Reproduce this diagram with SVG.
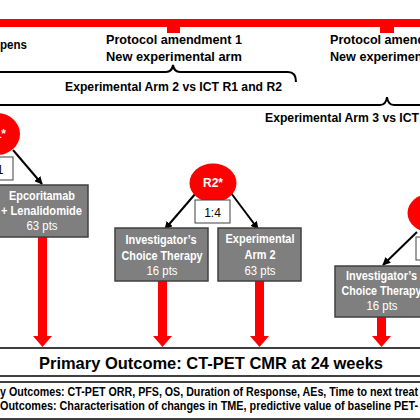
<svg xmlns="http://www.w3.org/2000/svg" width="420" height="420" viewBox="0 0 420 420">
<defs>
<style>
text{font-family:"Liberation Sans",Arial,sans-serif;}
.hd{font-size:12.6px;font-weight:bold;fill:#000;}
.bx{fill:#7f7f7f;stroke:#404040;stroke-width:1.5;}
.bt{font-size:12px;font-weight:bold;fill:#fff;text-anchor:middle;}
.bn{font-size:12px;fill:#fff;text-anchor:middle;}
.rd{fill:#ff0000;}
.rt{font-size:12px;font-weight:bold;fill:#fff;text-anchor:middle;}
.ratio{fill:#fff;stroke:#404040;stroke-width:1;}
.rtxt{font-size:12px;fill:#000;text-anchor:middle;}
.brace{fill:none;stroke:#000;stroke-width:2;}
.ln{stroke:#000;stroke-width:2;fill:none;marker-end:url(#ah);}
.ob{fill:#fff;stroke:#000;stroke-width:1.5;}
</style>
<marker id="ah" viewBox="0 0 10 10" refX="9" refY="5" markerWidth="4" markerHeight="4" orient="auto" markerUnits="strokeWidth">
<path d="M0,0 L10,5 L0,10 z" fill="#000"/>
</marker>
</defs>
<rect width="420" height="420" fill="#fff"/>

<g id="timeline">
<rect class="rd" x="-5" y="19" width="430" height="8"/>
<rect class="rd" x="167" y="26" width="13" height="7"/>
<rect class="rd" x="380" y="26" width="14" height="7"/>
<text class="hd" x="0" y="49" textLength="27" lengthAdjust="spacingAndGlyphs">pens</text>
<text class="hd" x="106" y="44" textLength="136" lengthAdjust="spacingAndGlyphs">Protocol amendment 1</text>
<text class="hd" x="106" y="61" textLength="136" lengthAdjust="spacingAndGlyphs">New experimental arm</text>
<text class="hd" x="330" y="44">Protocol amendment</text>
<text class="hd" x="330" y="61">New experimental arm</text>
</g>

<g id="brace1">
<path class="brace" d="M-10 72 H166 Q172 72 173 65 Q174 72 180 72 H288 Q296 72 296 82"/>
<text class="hd" x="65" y="91" textLength="217" lengthAdjust="spacingAndGlyphs">Experimental Arm 2 vs ICT R1 and R2</text>
</g>
<g id="brace2">
<path class="brace" d="M-10 105 H380 Q386 105 387 97 Q388 105 394 105 H430"/>
<text class="hd" x="265" y="122" style="font-size:12.2px">Experimental Arm 3 vs ICT</text>
</g>

<g id="connectors">
<line class="ln" x1="13" y1="150" x2="42" y2="184"/>
<line class="ln" x1="196" y1="193" x2="165" y2="229"/>
<line class="ln" x1="231" y1="193" x2="258" y2="229"/>
<line class="ln" x1="417" y1="232" x2="383" y2="265"/>
<polygon class="rd" points="38,237 47,237 47,336 52,336 42.5,347 33,336 38,336"/>
<polygon class="rd" points="158,281 167,281 167,336 172,336 162.5,347 153,336 158,336"/>
<polygon class="rd" points="255,281 264,281 264,336 269,336 259.5,347 250,336 255,336"/>
<polygon class="rd" points="377,317 386,317 386,336 391,336 381.5,347 372,336 377,336"/>
</g>

<g id="R1">
<ellipse class="rd" cx="-3" cy="134" rx="23" ry="21"/>
<text class="rt" x="-4" y="138">R1*</text>
</g>
<g id="ratio1">
<rect class="ratio" x="-22" y="157" width="35" height="23"/>
<text class="rtxt" x="-5" y="174">1:1</text>
</g>
<g id="R2">
<ellipse class="rd" cx="213" cy="183" rx="23.5" ry="19.5"/>
<text class="rt" x="213" y="187">R2*</text>
</g>
<g id="ratio2">
<rect class="ratio" x="195" y="200" width="35" height="23"/>
<text class="rtxt" x="212.5" y="216.5">1:4</text>
</g>
<g id="R3">
<ellipse class="rd" cx="431" cy="213" rx="23.5" ry="19.5"/>
</g>
<g id="ratio3">
<rect class="ratio" x="416" y="237" width="35" height="23"/>
</g>

<g id="epcoritamab">
<rect class="bx" x="-1" y="185" width="89" height="52"/>
<text class="bt" x="42" y="200" textLength="66" lengthAdjust="spacingAndGlyphs">Epcoritamab</text>
<text class="bt" x="41.5" y="215" textLength="81" lengthAdjust="spacingAndGlyphs">+ Lenalidomide</text>
<text class="bn" x="42" y="230" textLength="31" lengthAdjust="spacingAndGlyphs">63 pts</text>
</g>
<g id="ict1">
<rect class="bx" x="115" y="228" width="93" height="53"/>
<text class="bt" x="161" y="244" textLength="71" lengthAdjust="spacingAndGlyphs">Investigator’s</text>
<text class="bt" x="162" y="260" textLength="81" lengthAdjust="spacingAndGlyphs">Choice Therapy</text>
<text class="bn" x="162" y="275" textLength="31" lengthAdjust="spacingAndGlyphs">16 pts</text>
</g>
<g id="arm2">
<rect class="bx" x="218" y="228" width="83" height="53"/>
<text class="bt" x="260" y="243" textLength="69" lengthAdjust="spacingAndGlyphs">Experimental</text>
<text class="bt" x="260" y="259" textLength="31" lengthAdjust="spacingAndGlyphs">Arm 2</text>
<text class="bn" x="260" y="275" textLength="31" lengthAdjust="spacingAndGlyphs">63 pts</text>
</g>
<g id="ict2">
<rect class="bx" x="335" y="266" width="93" height="51"/>
<text class="bt" x="381.5" y="280" textLength="71" lengthAdjust="spacingAndGlyphs">Investigator’s</text>
<text class="bt" x="381.5" y="295" textLength="80" lengthAdjust="spacingAndGlyphs">Choice Therapy</text>
<text class="bn" x="382" y="310" textLength="31" lengthAdjust="spacingAndGlyphs">16 pts</text>
</g>

<g id="primary">
<rect class="ob" x="-5" y="348" width="430" height="28"/>
<text x="39" y="369" style="font-size:17px;font-weight:bold" textLength="344" lengthAdjust="spacingAndGlyphs">Primary Outcome: CT-PET CMR at 24 weeks</text>
</g>
<g id="secondary">
<rect class="ob" x="-5" y="382" width="430" height="37"/>
<text x="0" y="396" style="font-size:12px;font-weight:bold" textLength="418" lengthAdjust="spacingAndGlyphs">y Outcomes: CT-PET ORR, PFS, OS, Duration of Response, AEs, Time to next treat</text>
<text x="0" y="410" style="font-size:12px;font-weight:bold" textLength="418" lengthAdjust="spacingAndGlyphs">Outcomes: Characterisation of changes in TME, predictive value of baseline PET-</text>
</g>
</svg>
